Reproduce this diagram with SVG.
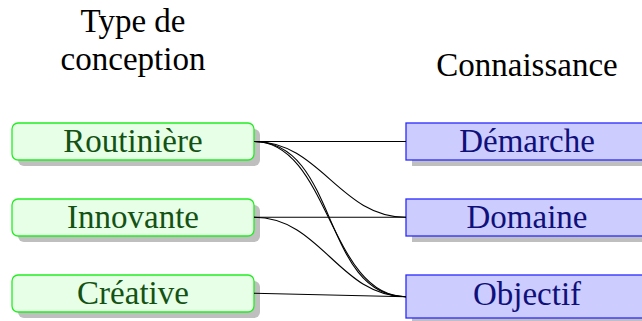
<svg xmlns="http://www.w3.org/2000/svg" width="642" height="321" viewBox="0 0 642 321">
  <rect x="0" y="0" width="642" height="321" fill="#ffffff"/>

  <!-- column headings -->
  <g id="heading-type">
    <text x="133" y="32" font-family="Liberation Serif" font-size="33" text-anchor="middle" fill="#000000">Type de</text>
    <text x="133" y="70" font-family="Liberation Serif" font-size="33" text-anchor="middle" fill="#000000">conception</text>
  </g>
  <g id="heading-knowledge">
    <text x="527" y="76" font-family="Liberation Serif" font-size="33" text-anchor="middle" fill="#000000">Connaissance</text>
  </g>

  <!-- design types: rounded green boxes with drop shadow -->
  <g id="routiniere">
    <rect fill="#bfbfbf" x="18" y="129" width="242" height="37" rx="6"/>
    <rect fill="#e6ffe6" stroke="#22ee22" stroke-width="1.3" x="12" y="123" width="242" height="37" rx="6"/>
    <text x="133" y="152" font-family="Liberation Serif" font-size="33" text-anchor="middle" fill="#145214">Routinière</text>
  </g>
  <g id="innovante">
    <rect fill="#bfbfbf" x="18" y="205" width="242" height="37" rx="6"/>
    <rect fill="#e6ffe6" stroke="#22ee22" stroke-width="1.3" x="12" y="199" width="242" height="37" rx="6"/>
    <text x="133" y="228" font-family="Liberation Serif" font-size="33" text-anchor="middle" fill="#145214">Innovante</text>
  </g>
  <g id="creative">
    <rect fill="#bfbfbf" x="18" y="281" width="242" height="37" rx="6"/>
    <rect fill="#e6ffe6" stroke="#22ee22" stroke-width="1.3" x="12" y="275" width="242" height="37" rx="6"/>
    <text x="133" y="304" font-family="Liberation Serif" font-size="33" text-anchor="middle" fill="#145214">Créative</text>
  </g>

  <!-- knowledge kinds: square blue boxes with drop shadow -->
  <g id="demarche">
    <rect fill="#bfbfbf" x="412" y="129" width="242" height="37"/>
    <rect fill="#ccccff" stroke="#2a2aff" stroke-width="1.3" x="406" y="123" width="242" height="37"/>
    <text x="527" y="152" font-family="Liberation Serif" font-size="33" text-anchor="middle" fill="#10107a">Démarche</text>
  </g>
  <g id="domaine">
    <rect fill="#bfbfbf" x="412" y="205" width="242" height="37"/>
    <rect fill="#ccccff" stroke="#2a2aff" stroke-width="1.3" x="406" y="199" width="242" height="37"/>
    <text x="527" y="228" font-family="Liberation Serif" font-size="33" text-anchor="middle" fill="#10107a">Domaine</text>
  </g>
  <g id="objectif">
    <rect fill="#bfbfbf" x="412" y="281" width="242" height="43"/>
    <rect fill="#ccccff" stroke="#2a2aff" stroke-width="1.3" x="406" y="275" width="242" height="43"/>
    <text x="527" y="305" font-family="Liberation Serif" font-size="33" text-anchor="middle" fill="#10107a">Objectif</text>
  </g>

  <!-- links between design types and knowledge kinds -->
  <g id="connectors" fill="none" stroke="#000000" stroke-width="1.1">
    <path d="M254,141.5 L406,141.5"/>
    <path d="M254,141.5 C320.5,141.5 339.5,217.3 406,217.3"/>
    <path d="M254,141.5 C339,141.5 321,296.7 406,296.7"/>
    <path d="M254,141.5 C329,141.5 329,296.7 406,296.7"/>
    <path d="M254,217.3 L406,217.3"/>
    <path d="M254,217.3 C321,217.3 339,296.7 406,296.7"/>
    <path d="M254,293.3 L406,296.7"/>
  </g>
</svg>
